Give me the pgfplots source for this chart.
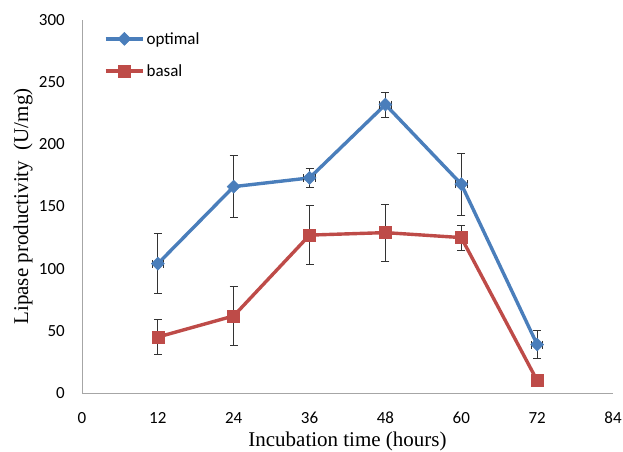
\documentclass[border=0pt]{standalone}
\usepackage{pgfplots}
\pgfplotsset{compat=1.18}
\usepackage{fontspec}
\setmainfont{Liberation Serif}
\newfontfamily\calib{Carlito}
\definecolor{xlblue}{HTML}{4A7EBB}
\definecolor{xlred}{HTML}{BE4B48}
\begin{document}
\begin{tikzpicture}
\useasboundingbox (-82pt,-58pt) rectangle (541pt,393pt);
\begin{axis}[
  scale only axis, width=531pt, height=373pt,
  xmin=0, xmax=84, ymin=0, ymax=300,
  xtick={0,12,...,84}, ytick={0,50,...,300},
  axis x line*=bottom, axis y line*=left,
  axis line style={gray!70, line width=0.9pt, -},
  major tick length=0pt,
  tick label style={font=\calib\fontsize{17}{19}\selectfont, inner sep=0pt},
  /pgf/number format/assume math mode=true,
  xticklabel style={anchor=north, yshift=-19pt},
  yticklabel style={anchor=east, xshift=-17pt},
  xlabel={Incubation time (hours)},
  ylabel={Lipase productivity\ \ (U/mg)},
  label style={font=\fontsize{21}{23}\selectfont},
  xlabel style={at={(axis description cs:0.5,0)}, anchor=base, yshift=-53pt},
  ylabel style={at={(axis description cs:0,0.5)}, anchor=center, yshift=59pt},
  legend style={draw=none, fill=none, at={(22pt,338pt)}, anchor=west,
    font=\calib\fontsize{17}{19}\selectfont, row sep=15pt, inner sep=0pt},
  legend cell align=left,
  legend image code/.code={\draw[#1] (0pt,0pt) -- (37pt,0pt); \draw[#1, mark repeat=2, mark phase=2] plot coordinates {(0pt,0pt) (18.5pt,0pt) (37pt,0pt)};},
  error bars/error bar style={black!80, line width=0.9pt},
  error bars/error mark options={rotate=90, mark size=4pt, black!80, line width=0.9pt},
]
\addplot[xlblue, line width=3.4pt, mark=square*, mark size=4.6pt, mark options={fill=xlblue, line width=0.5pt, rotate=45},
  error bars/.cd, y dir=both, y explicit, x dir=both, x explicit]
  table[x=x, y=y, y error=e, x error=ex] {
x y e ex
12 104 24 0.9
24 166 25 0
36 173 8 0.9
48 232 10 0.9
60 168 25 0.9
72 39 11 0.9
};
\addlegendentry{optimal}
\addplot[xlred, line width=3.4pt, mark=square*, mark size=6pt, mark options={fill=xlred, line width=0.5pt},
  error bars/.cd, y dir=both, y explicit]
  table[x=x, y=y, y error=e] {
x y e
12 45 14
24 62 24
36 127 24
48 129 23
60 125 10
72 10 0
};
\addlegendentry{basal}
\end{axis}
\end{tikzpicture}
\end{document}
